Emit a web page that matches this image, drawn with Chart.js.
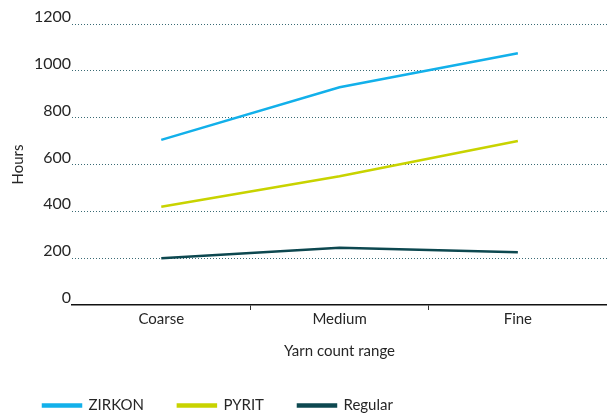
<!DOCTYPE html>
<html>
<head>
<meta charset="utf-8">
<script src="https://cdn.jsdelivr.net/npm/chart.js@4.4.0/dist/chart.umd.min.js"></script>
<style>
  html, body { margin: 0; padding: 0; background: #fff; }
  #wrap { width: 607px; height: 414px; }
</style>
</head>
<body>
<div id="wrap"><canvas id="hoursChart" width="607" height="414"></canvas></div>
<script>
const categories = ['Coarse', 'Medium', 'Fine'];
const zirkon = [705, 930, 1075];
const pyrit = [420, 550, 700];
const regular = [200, 245, 225];
const yTicks = [0, 200, 400, 600, 800, 1000, 1200];

const textColor = '#262626';
const font = 'Lato, "Open Sans", sans-serif';

const series = [
    { label: 'ZIRKON', data: zirkon, color: '#12b0ea' },
    { label: 'PYRIT', data: pyrit, color: '#c8d300' },
    { label: 'Regular', data: regular, color: '#0d4850' }
];

new Chart(document.getElementById('hoursChart').getContext('2d'), {
    type: 'line',
    data: {
        labels: categories,
        datasets: series.map(s => ({
            label: s.label,
            data: s.data,
            borderColor: s.color,
            backgroundColor: s.color,
            borderWidth: 2.5,
            pointRadius: 0,
            tension: 0,
            fill: false
        }))
    },
    options: {
        responsive: false,
        animation: false,
        layout: { padding: { top: 24, right: 0, left: 9, bottom: -9 } },
        plugins: {
            tooltip: { enabled: false },
            legend: {
                position: 'bottom',
                align: 'start',
                labels: {
                    boxWidth: 38,
                    boxHeight: 2,
                    padding: 34,
                    color: textColor,
                    font: { family: font, size: 15 }
                }
            }
        },
        scales: {
            x: {
                offset: true,
                border: { display: true, color: '#111', width: 1.5 },
                grid: {
                    offset: true,
                    drawOnChartArea: false,
                    tickLength: 5,
                    color: ctx => (ctx.index === 0 || ctx.index === categories.length) ? 'rgba(0,0,0,0)' : '#333'
                },
                ticks: { color: textColor, padding: 0, font: { family: font, size: 15 } },
                title: {
                    display: true,
                    text: 'Yarn count range',
                    color: textColor,
                    padding: { top: 14, bottom: 4 },
                    font: { family: font, size: 15 }
                }
            },
            y: {
                min: 0,
                max: 1200,
                afterBuildTicks: axis => { axis.ticks = yTicks.map(v => ({ value: v })); },
                border: { display: false, dash: [1, 2] },
                grid: {
                    color: ctx => ctx.tick && ctx.tick.value === 0 ? 'rgba(0,0,0,0)' : '#3a6b75',
                    lineWidth: 1,
                    tickLength: 0
                },
                ticks: {
                    color: textColor,
                    padding: 1,
                    labelOffset: -7,
                    callback: v => String(v),
                    font: { family: font, size: 16 }
                },
                title: {
                    display: true,
                    text: 'Hours',
                    color: textColor,
                    padding: { top: 0, bottom: 6 },
                    font: { family: font, size: 15 }
                }
            }
        }
    }
});
</script>
</body>
</html>
